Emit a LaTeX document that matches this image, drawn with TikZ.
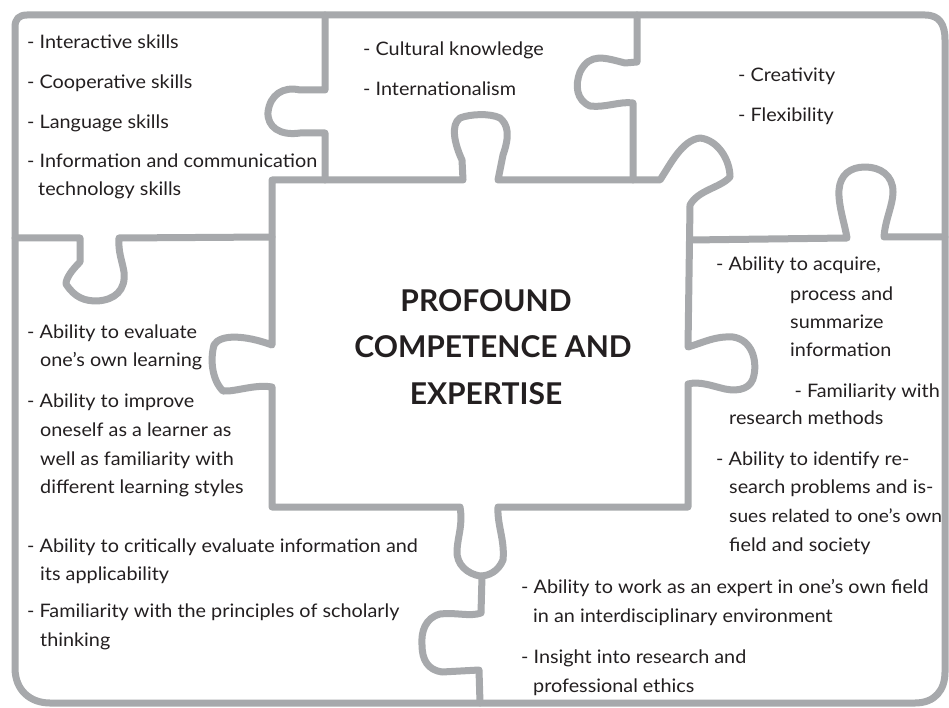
\documentclass[tikz,border=0pt]{standalone}
\usepackage{fontspec}
\setmainfont{Lato}[FakeStretch=1.065]
\newfontfamily\titlefont{Lato}
\definecolor{pline}{HTML}{A7A9AC}
\definecolor{ptext}{HTML}{231F20}
\tikzset{
  piece/.style={draw=pline, line width=7pt, line join=round, line cap=round},
  txt/.style={anchor=base west, inner sep=0pt, text=ptext, font=\fontsize{18.6}{22}\selectfont},
  title/.style={anchor=base, inner sep=0pt, text=ptext, font=\titlefont\fontsize{30}{36}\selectfont\bfseries}
}
\begin{document}
\begin{tikzpicture}[x=1pt,y=-1pt]
\useasboundingbox (0,0) rectangle (949,708);
\fill[white] (0,0) rectangle (949,708);

% outer border
\draw[piece] (27,15) -- (925,15) .. controls (940,15) and (945,25) .. (945,40)
  -- (945,672) .. controls (945,690) and (935,703) .. (915,703)
  -- (50,703) .. controls (30,703) and (15,690) .. (15,668)
  -- (15,27) .. controls (15,19) and (19,15) .. (27,15);

% top-left / top-middle separator
\coordinate (b0) at (325,15);
\coordinate (b1) at (325,180);
\draw[piece] (b0) -- (325,90) -- (300,90) .. controls (283,86) and (270,95) .. (268,112)
  .. controls (267,127) and (280,136) .. (300,133) -- (325,133) -- (b1);

% top-middle / top-right separator
\coordinate (d0) at (637,15);
\coordinate (d1) at (633,180);
\draw[piece] (d0) -- (637,62) -- (625,63) .. controls (605,58) and (590,52) .. (580,72)
  .. controls (575,85) and (576,100) .. (590,106) .. controls (605,108) and (620,101) .. (633,103) -- (d1);

% central piece
\draw[piece] (272,180) -- (463,180) -- (462,160) .. controls (455,145) and (450,125) .. (460,118)
  .. controls (470,114) and (490,113) .. (500,118) .. controls (508,125) and (510,135) .. (503,155)
  -- (498,180) -- (660,180) .. controls (670,165) and (682,140) .. (700,138)
  .. controls (718,140) and (730,160) .. (730,177) .. controls (720,188) and (698,190) .. (690,205)
  -- (688,347) .. controls (705,342) and (715,336) .. (733,337)
  .. controls (752,340) and (757,360) .. (754,375) .. controls (752,388) and (740,392) .. (725,389)
  .. controls (712,386) and (700,381) .. (688,384)
  -- (688,507) -- (498,507) .. controls (497,525) and (505,540) .. (503,560)
  .. controls (498,572) and (488,576) .. (480,576) .. controls (468,574) and (456,565) .. (457,550)
  .. controls (458,535) and (463,525) .. (460,507)
  -- (272,507) -- (272,387) .. controls (255,384) and (235,392) .. (223,391)
  .. controls (212,380) and (210,360) .. (214,345) .. controls (220,334) and (245,335) .. (272,345)
  -- cycle;

% left horizontal separator
\coordinate (f0) at (15,238);
\coordinate (f1) at (272,237);
\draw[piece] (f0) -- (80,238) -- (80,262) .. controls (72,270) and (66,278) .. (66,284)
  .. controls (75,298) and (85,301) .. (97,301) .. controls (115,300) and (126,290) .. (124,272)
  .. controls (122,260) and (118,252) .. (119,238) -- (f1);

% right horizontal separator
\coordinate (e0) at (690,240);
\coordinate (e1) at (945,237);
\draw[piece] (e0) -- (847,238) .. controls (845,225) and (838,205) .. (839,190)
  .. controls (840,175) and (850,167) .. (865,167) .. controls (880,167) and (893,175) .. (893,192)
  .. controls (893,205) and (885,220) .. (884,237) -- (e1);

% bottom separator
\coordinate (g0) at (482,576);
\coordinate (g1) at (480,703);
\draw[piece] (g0) -- (481,613) .. controls (470,617) and (455,612) .. (440,614)
  .. controls (425,618) and (421,632) .. (422,645) .. controls (422,660) and (428,670) .. (442,672)
  -- (479,670) -- (g1);

% texts: top-left
\node[txt] (t1) at (27,49) {- Interactive skills};
\node[txt] (t2) at (27,89) {- Cooperative skills};
\node[txt] (t3) at (27,129) {- Language skills};
\node[txt] (t4) at (27,168) {- Information and communication};
\node[txt] (t5) at (38,196) {technology skills};
% top-middle
\node[txt] (m1) at (363,56) {- Cultural knowledge};
\node[txt] (m2) at (363,96) {- Internationalism};
% top-right
\node[txt] (r1) at (738,82) {- Creativity};
\node[txt] (r2) at (738,122) {- Flexibility};
% title
\node[title] (c1) at (486,311) {PROFOUND};
\node[title] (c2) at (493,357) {COMPETENCE AND};
\node[title] (c3) at (486,404) {EXPERTISE};
% left
\node[txt] (l1) at (27,338) {- Ability to evaluate};
\node[txt] (l2) at (40,366) {one’s own learning};
\node[txt] (l3) at (27,407) {- Ability to improve};
\node[txt] (l4) at (40,436) {oneself as a learner as};
\node[txt] (l5) at (40,465) {well as familiarity with};
\node[txt] (l6) at (40,493) {different learning styles};
% bottom-left
\node[txt] (bl1) at (27,552) {- Ability to critically evaluate information and};
\node[txt] (bl2) at (40,580) {its applicability};
\node[txt] (bl3) at (27,617) {- Familiarity with the principles of scholarly};
\node[txt] (bl4) at (40,646) {thinking};
% right
\node[txt] (p1) at (716,271) {- Ability to acquire,};
\node[txt] (p2) at (790,300) {process and};
\node[txt] (p3) at (790,328) {summarize};
\node[txt] (p4) at (790,356) {information};
\node[txt, anchor=base east] (p5) at (940,397) {- Familiarity with};
\node[txt] (p6) at (729,424) {research methods};
\node[txt] (p7) at (716,465) {- Ability to identify re-};
\node[txt] (p8) at (729,493) {search problems and is-};
\node[txt, font=\fontsize{18}{22}\selectfont] (p9) at (729,522) {sues related to one’s own};
\node[txt] (p10) at (729,551) {field and society};
% bottom-right
\node[txt] (br1) at (521,593) {- Ability to work as an expert in one’s own field};
\node[txt] (br2) at (533,622) {in an interdisciplinary environment};
\node[txt] (br3) at (521,663) {- Insight into research and};
\node[txt] (br4) at (533,692) {professional ethics};
\end{tikzpicture}
\end{document}
